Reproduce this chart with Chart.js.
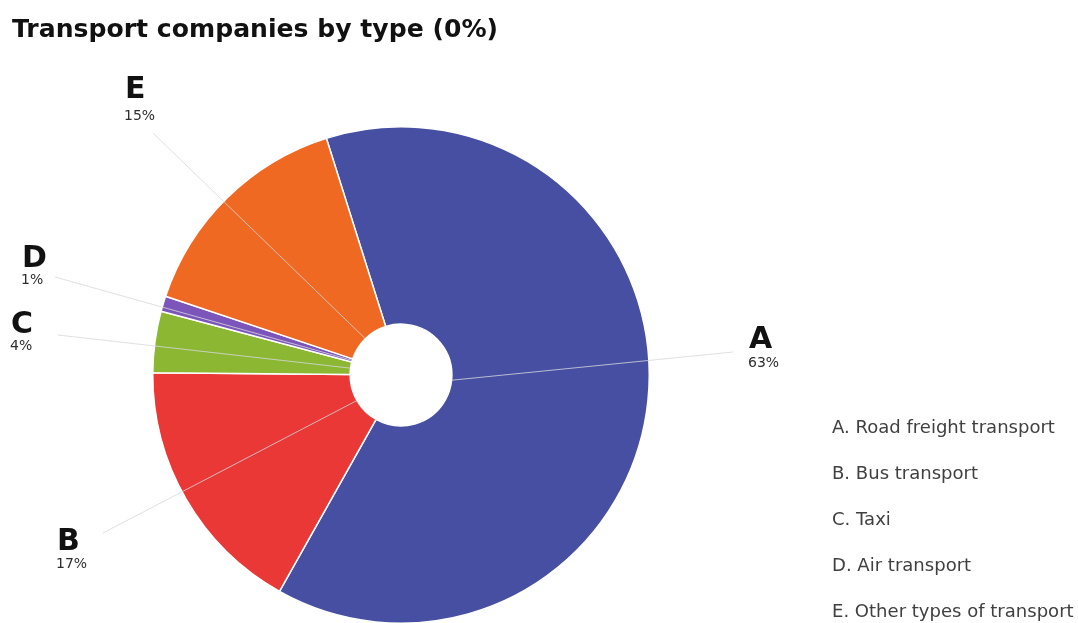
<!DOCTYPE html>
<html>
<head>
<meta charset="utf-8">
<title>Transport companies by type</title>
<script src="https://cdn.jsdelivr.net/npm/chart.js@4/dist/chart.umd.min.js"></script>
<style>
  html, body { margin: 0; padding: 0; background: #ffffff; overflow: hidden; }
  #wrap { position: absolute; left: 0; top: 0; width: 1078px; height: 640px; }
</style>
</head>
<body>
<div id="wrap"><canvas id="chart" width="1078" height="640"></canvas></div>
<script>
// Chart content
const chartTitle = 'Transport companies by type (0%)';
const categories = ['A', 'B', 'C', 'D', 'E'];
const categoryNames = ['Road freight transport', 'Bus transport', 'Taxi', 'Air transport', 'Other types of transport'];
const shares = [63, 17, 4, 1, 15];

// Appearance
const sliceColors = ['#464fa1', '#e93835', '#8cb733', '#7b55b9', '#ef6922'];
const FONT = '"DejaVu Sans", sans-serif';

// Where each slice label sits (left edge, letter baseline, percent baseline)
// and where its leader line ends.
const labelLayout = [
  { x: 749, letterY: 348, pctY: 367, lineEnd: [733, 352] },
  { x: 57,  letterY: 550, pctY: 568, lineEnd: [103, 533] },
  { x: 11,  letterY: 333, pctY: 350, lineEnd: [58, 335] },
  { x: 22,  letterY: 267, pctY: 284, lineEnd: [55, 277] },
  { x: 125, letterY: 98,  pctY: 120, lineEnd: [153, 133] }
];

// Picks a font size so the text spans the given width.
function fitFont(ctx, text, weight, width, baseSize) {
  ctx.font = weight + ' ' + baseSize + 'px ' + FONT;
  const w = ctx.measureText(text).width;
  const size = baseSize * width / w;
  ctx.font = weight + ' ' + size.toFixed(2) + 'px ' + FONT;
  return size;
}

const annotations = {
  id: 'annotations',
  afterDatasetsDraw(chart) {
    const ctx = chart.ctx;
    const arcs = chart.getDatasetMeta(0).data;
    ctx.save();
    // leader lines from the hole edge at each slice's middle angle
    ctx.strokeStyle = 'rgba(215,215,222,0.8)';
    ctx.lineWidth = 1;
    arcs.forEach((arc, i) => {
      const p = arc.getProps(['x', 'y', 'startAngle', 'endAngle', 'innerRadius'], true);
      const mid = (p.startAngle + p.endAngle) / 2;
      const sx = p.x + Math.cos(mid) * p.innerRadius;
      const sy = p.y + Math.sin(mid) * p.innerRadius;
      const end = labelLayout[i].lineEnd;
      ctx.beginPath();
      ctx.moveTo(sx, sy);
      ctx.lineTo(end[0], end[1]);
      ctx.stroke();
    });
    // slice letters and percentages
    ctx.textAlign = 'left';
    ctx.textBaseline = 'alphabetic';
    categories.forEach((cat, i) => {
      const L = labelLayout[i];
      ctx.fillStyle = '#111111';
      ctx.font = 'bold 30px ' + FONT;
      ctx.fillText(cat, L.x, L.letterY);
      ctx.fillStyle = '#2e2e2e';
      ctx.font = '14px ' + FONT;
      ctx.fillText(shares[i] + '%', L.x - 1, L.pctY);
    });
    ctx.restore();
  },
  afterDraw(chart) {
    const ctx = chart.ctx;
    ctx.save();
    ctx.textAlign = 'left';
    ctx.textBaseline = 'alphabetic';
    // title
    ctx.fillStyle = '#111111';
    fitFont(ctx, chartTitle, 'bold', 486, 24);
    ctx.fillText(chartTitle, 12, 37);
    // legend (text only)
    ctx.fillStyle = '#404040';
    fitFont(ctx, categories[0] + '. ' + categoryNames[0], 'normal', 223, 15);
    categories.forEach((cat, i) => {
      ctx.fillText(cat + '. ' + categoryNames[i], 832, 433 + i * 46);
    });
    ctx.restore();
  }
};

new Chart(document.getElementById('chart'), {
  type: 'doughnut',
  data: {
    labels: categories.map((c, i) => c + '. ' + categoryNames[i]),
    datasets: [{
      data: shares,
      backgroundColor: sliceColors,
      borderColor: '#ffffff',
      borderWidth: 1.5,
      hoverOffset: 0
    }]
  },
  options: {
    responsive: false,
    devicePixelRatio: 1,
    animation: false,
    rotation: -17.5,
    cutout: '20.5%',
    layout: { padding: { left: 152, right: 428, top: 126, bottom: 16 } },
    plugins: {
      legend: { display: false },
      tooltip: { enabled: false },
      title: { display: false }
    },
    events: []
  },
  plugins: [annotations]
});
</script>
</body>
</html>
